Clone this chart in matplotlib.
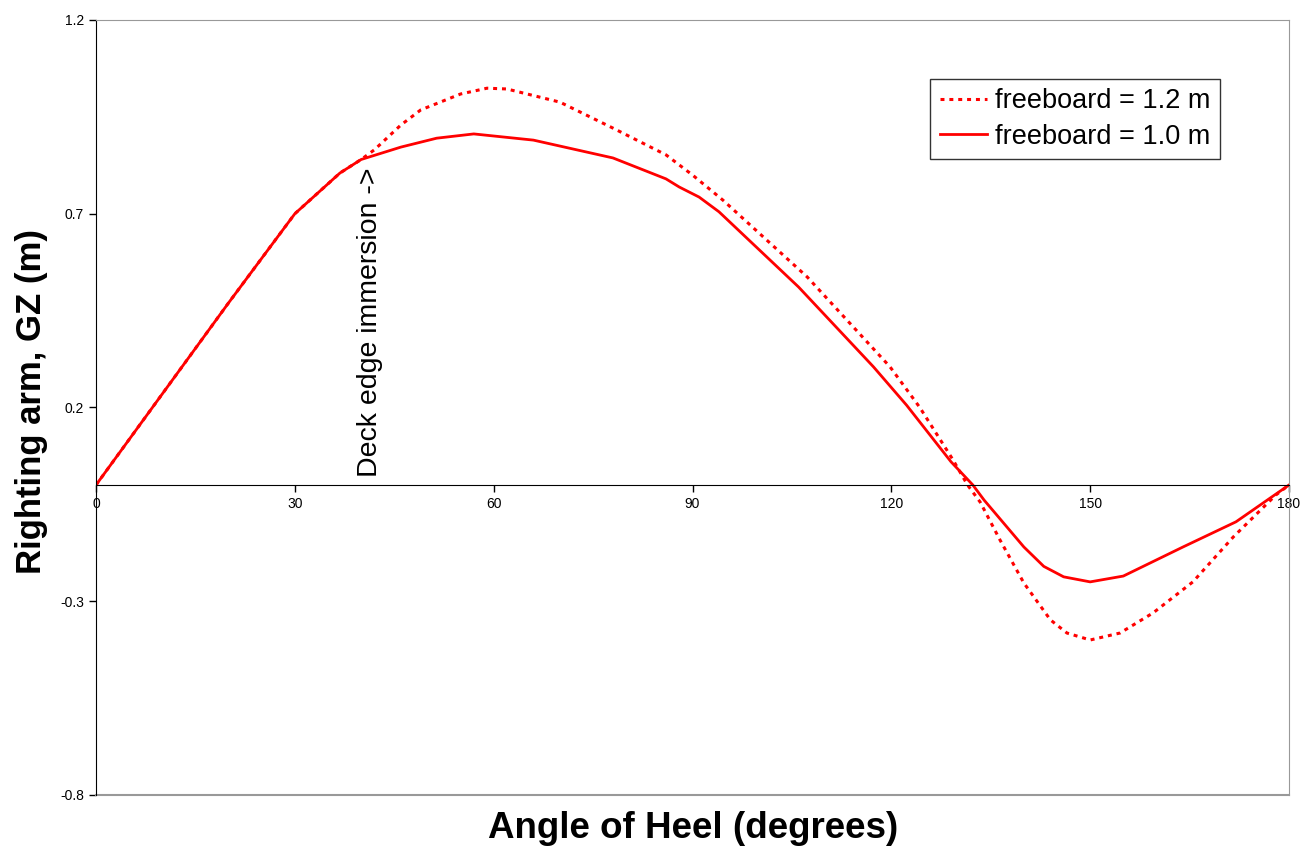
import matplotlib
matplotlib.use("Agg")
import matplotlib.pyplot as plt

plt.rcParams['font.family'] = ['Liberation Sans', 'DejaVu Sans']

# angle of heel (deg) and righting arm GZ (m)
angle_12 = [0, 10, 20, 30, 36.8, 40, 42, 46, 49, 55, 59, 62, 70, 78, 86, 90,
            94.6, 107.3, 119.8, 124.3, 129.3, 131.5, 133.4, 136.4, 140, 144,
            146.5, 150, 154.5, 159.5, 165.5, 171.6, 178, 180]
gz_12 = [0, 0.235, 0.47, 0.70, 0.805, 0.84, 0.865, 0.929, 0.968, 1.009, 1.024,
         1.022, 0.988, 0.921, 0.852, 0.80, 0.735, 0.537, 0.305, 0.20,
         0.065, 0, -0.044, -0.142, -0.253, -0.348, -0.382, -0.40, -0.382,
         -0.33, -0.25, -0.134, -0.026, 0]

angle_10 = [0, 10, 20, 30, 36.8, 40, 46, 51.4, 57, 66, 78, 86, 88, 91, 94, 106,
            117.3, 122.3, 129, 132.3, 134, 140, 143, 146, 150, 155, 164, 172, 180]
gz_10 = [0, 0.235, 0.47, 0.70, 0.805, 0.84, 0.872, 0.895, 0.906, 0.89, 0.844,
         0.79, 0.769, 0.743, 0.705, 0.511, 0.305, 0.206, 0.06, 0, -0.039, -0.16,
         -0.21, -0.237, -0.25, -0.235, -0.16, -0.095, 0]

x_ticks = [0, 30, 60, 90, 120, 150, 180]
y_ticks = [-0.8, -0.3, 0.2, 0.7, 1.2]

fig = plt.figure(figsize=(13.06, 8.6), dpi=100)
ax = fig.add_axes([96 / 1306, 65 / 860, 1193 / 1306, 775 / 860])

ax.plot(angle_12, gz_12, color='red', lw=2.2, linestyle=(0, (1.3, 1.6)),
        label='freeboard = 1.2 m')
ax.plot(angle_10, gz_10, color='red', lw=2.0, label='freeboard = 1.0 m')

ax.set_xlim(0, 180)
ax.set_ylim(-0.8, 1.2)
ax.set_xticks(x_ticks)
ax.set_yticks(y_ticks)
ax.set_xticklabels([str(t) for t in x_ticks])
ax.set_yticklabels([str(t) for t in y_ticks])
ax.tick_params(axis='both', labelsize=10, direction='out', length=5, width=1)

ax.spines['bottom'].set_position(('data', 0))
ax.spines['bottom'].set_color('black')
ax.spines['left'].set_color('black')
ax.spines['top'].set_color('#999999')
ax.spines['right'].set_color('#999999')
ax.axhline(-0.8, color='#999999', lw=1.5, clip_on=False)

ax.text(41.3, 0.02, 'Deck edge immersion ->', rotation=90, ha='center',
        va='bottom', fontsize=20.5)

fig.text(32 / 1306, 1 - 402 / 860, 'Righting arm, GZ (m)', rotation=90,
         ha='center', va='center', fontsize=25, fontweight='bold')
fig.text(693 / 1306, 1 - 828 / 860, 'Angle of Heel (degrees)',
         ha='center', va='center', fontsize=26.5, fontweight='bold')

leg = ax.legend(loc='upper right', bbox_to_anchor=(1220 / 1306, 1 - 79 / 860),
                bbox_transform=fig.transFigure, fontsize=19.5, frameon=True,
                fancybox=False, handlelength=1.75, handletextpad=0.3,
                borderpad=0.35, labelspacing=0.35, borderaxespad=0)
leg.get_frame().set_edgecolor('black')
leg.get_frame().set_linewidth(1)

fig.savefig('out.png', dpi=100)
